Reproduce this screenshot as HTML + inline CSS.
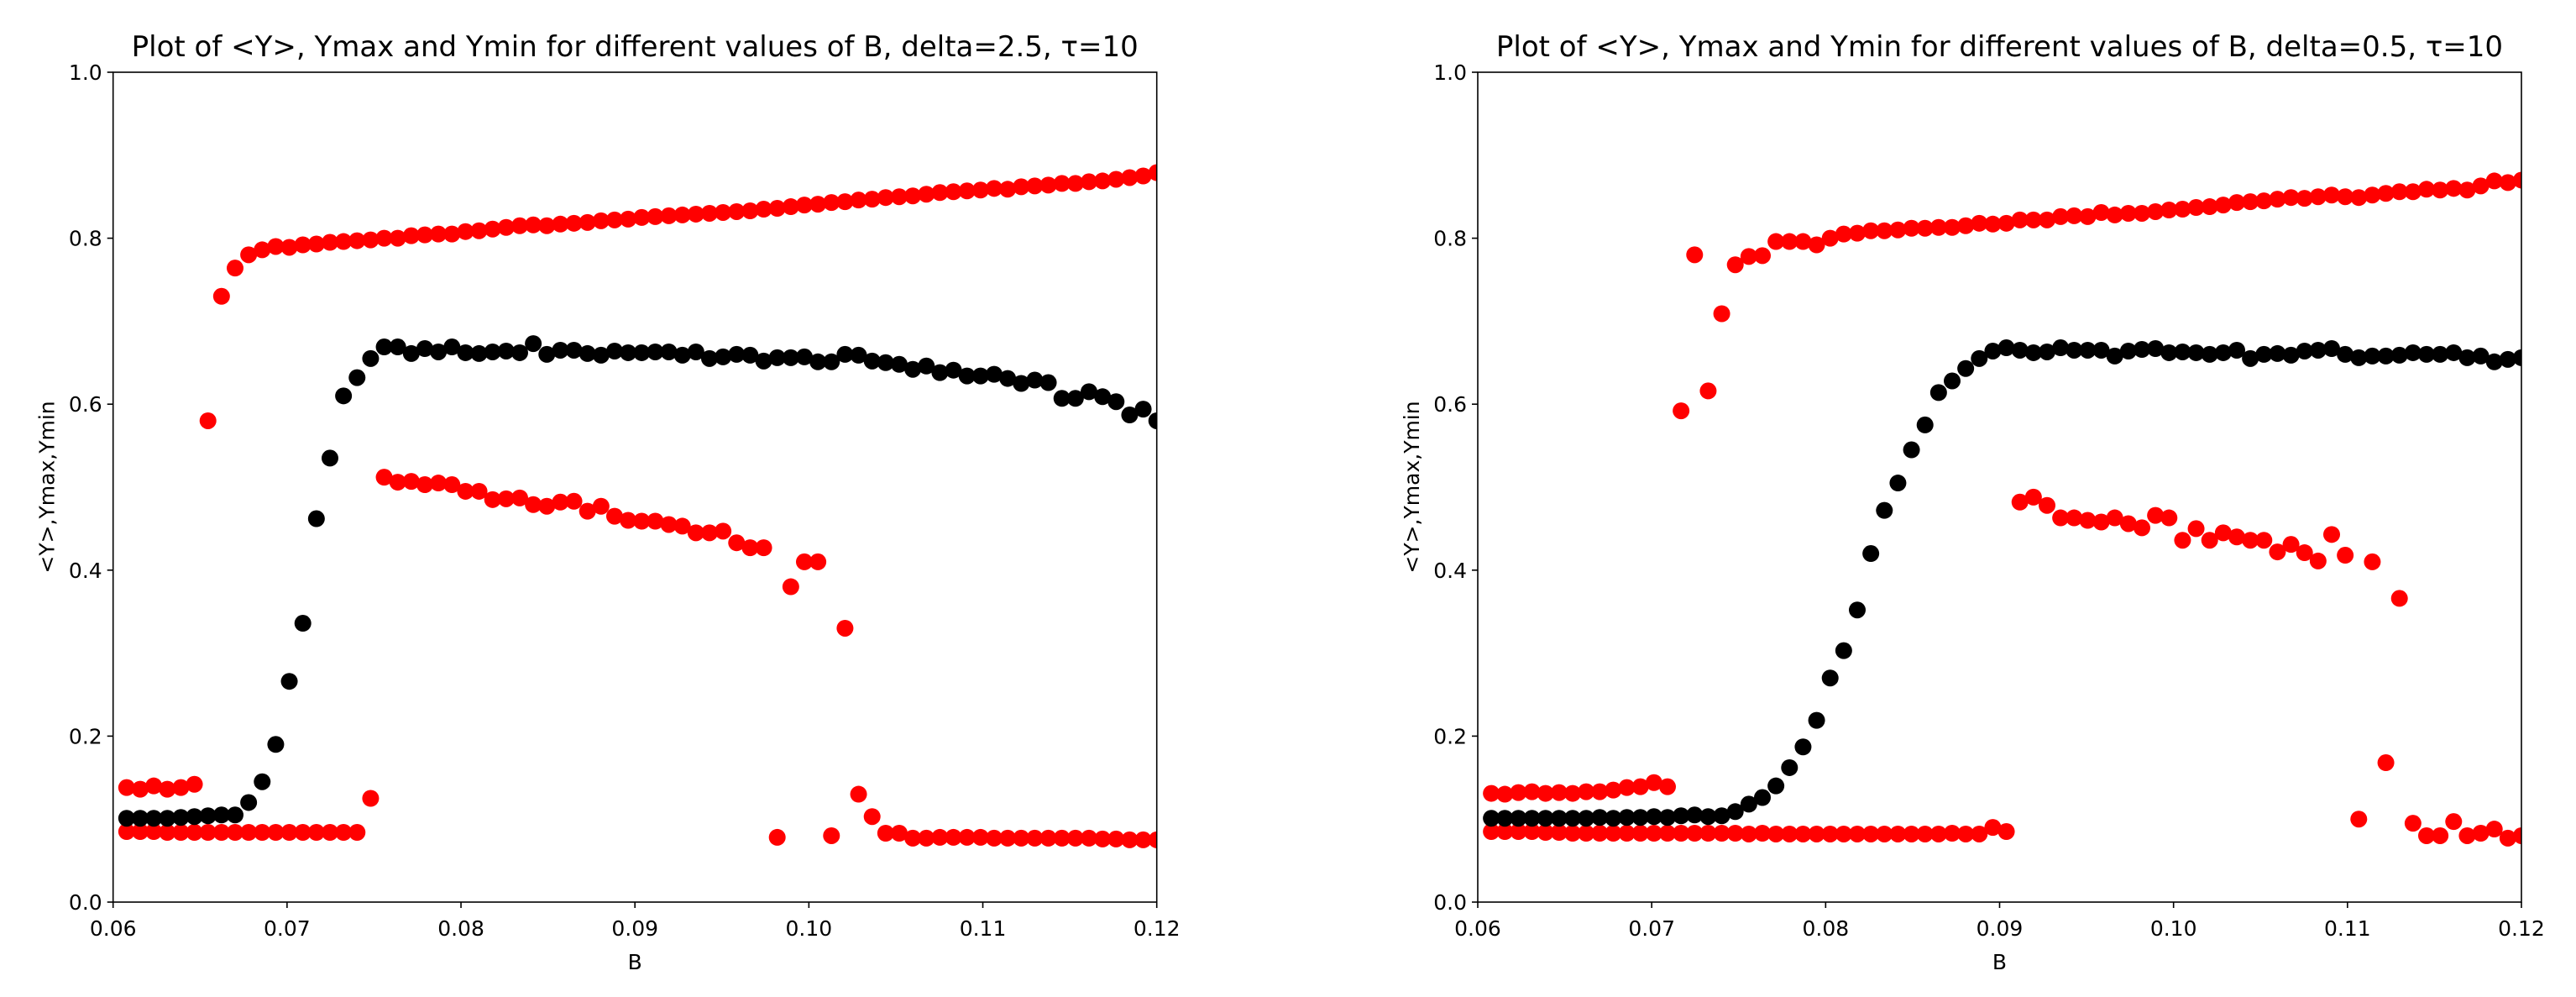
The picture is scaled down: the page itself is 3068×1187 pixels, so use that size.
<!DOCTYPE html>
<html><head><meta charset="utf-8"><style>
html,body{margin:0;padding:0;background:#fff;}
svg{display:block;font-family:"DejaVu Sans","Liberation Sans",sans-serif;}
</style></head><body>
<svg id="fig" width="3068" height="1187" viewBox="0 0 3068 1187" xmlns="http://www.w3.org/2000/svg"></svg>
<script>
// ---- data ----
const xTicks = [0.06,0.07,0.08,0.09,0.10,0.11,0.12];
const xTickLabels = ["0.06","0.07","0.08","0.09","0.10","0.11","0.12"];
const yTicks = [0,0.2,0.4,0.6,0.8,1.0];
const yTickLabels = ["0.0","0.2","0.4","0.6","0.8","1.0"];

const leftMax = [0.138,0.136,0.140,0.136,0.138,0.142,0.58,0.73,0.764,0.78,0.786,0.79,0.789,0.792,0.793,0.795,0.796,0.797,0.798,0.80,0.80,0.803,0.804,0.805,0.805,0.808,0.809,0.811,0.813,0.815,0.816,0.815,0.817,0.818,0.819,0.821,0.822,0.823,0.825,0.826,0.827,0.828,0.829,0.830,0.831,0.832,0.833,0.835,0.836,0.838,0.840,0.841,0.843,0.844,0.846,0.847,0.849,0.850,0.851,0.853,0.855,0.856,0.857,0.858,0.860,0.859,0.862,0.863,0.864,0.866,0.866,0.868,0.869,0.871,0.873,0.875,0.879];
const leftMean = [0.101,0.101,0.101,0.101,0.102,0.103,0.104,0.105,0.105,0.12,0.145,0.19,0.266,0.336,0.462,0.535,0.61,0.632,0.655,0.669,0.669,0.661,0.667,0.663,0.669,0.662,0.661,0.663,0.664,0.662,0.673,0.66,0.665,0.665,0.661,0.659,0.664,0.662,0.662,0.663,0.663,0.659,0.663,0.655,0.657,0.66,0.659,0.652,0.656,0.656,0.657,0.651,0.651,0.66,0.659,0.652,0.65,0.648,0.642,0.646,0.638,0.641,0.634,0.634,0.636,0.631,0.625,0.629,0.626,0.607,0.607,0.615,0.609,0.603,0.587,0.594,0.58];
const leftMin = [0.085,0.085,0.085,0.084,0.084,0.084,0.084,0.084,0.084,0.084,0.084,0.084,0.084,0.084,0.084,0.084,0.084,0.084,0.125,0.512,0.506,0.507,0.503,0.505,0.503,0.495,0.495,0.485,0.486,0.487,0.479,0.477,0.482,0.483,0.471,0.477,0.465,0.46,0.459,0.459,0.455,0.453,0.445,0.445,0.447,0.433,0.427,0.427,0.078,0.38,0.41,0.41,0.08,0.33,0.13,0.103,0.083,0.083,0.077,0.077,0.078,0.078,0.078,0.078,0.077,0.077,0.077,0.077,0.077,0.077,0.077,0.077,0.076,0.076,0.075,0.075,0.075];

const rightMax = [0.131,0.130,0.132,0.133,0.131,0.132,0.131,0.133,0.133,0.135,0.138,0.139,0.144,0.139,0.592,0.78,0.616,0.709,0.768,0.778,0.779,0.796,0.796,0.796,0.792,0.80,0.805,0.806,0.809,0.809,0.81,0.812,0.812,0.813,0.813,0.815,0.818,0.817,0.818,0.822,0.822,0.822,0.826,0.827,0.826,0.831,0.828,0.83,0.83,0.832,0.834,0.835,0.837,0.838,0.84,0.843,0.844,0.845,0.847,0.849,0.848,0.85,0.852,0.85,0.849,0.852,0.854,0.856,0.856,0.859,0.858,0.86,0.858,0.863,0.869,0.867,0.870];
const rightMean = [0.101,0.101,0.101,0.101,0.101,0.101,0.101,0.101,0.102,0.101,0.102,0.102,0.103,0.102,0.104,0.105,0.103,0.104,0.109,0.118,0.126,0.14,0.162,0.187,0.219,0.27,0.303,0.352,0.42,0.472,0.505,0.545,0.575,0.614,0.628,0.643,0.655,0.664,0.668,0.665,0.662,0.663,0.668,0.665,0.665,0.665,0.658,0.664,0.666,0.667,0.662,0.663,0.662,0.66,0.662,0.665,0.655,0.66,0.661,0.659,0.664,0.665,0.667,0.66,0.656,0.658,0.658,0.659,0.662,0.66,0.66,0.662,0.656,0.658,0.651,0.654,0.656];
const rightMin = [0.085,0.085,0.085,0.085,0.084,0.084,0.083,0.083,0.083,0.083,0.083,0.083,0.083,0.083,0.083,0.083,0.083,0.083,0.083,0.082,0.083,0.082,0.082,0.082,0.082,0.082,0.082,0.082,0.082,0.082,0.082,0.082,0.082,0.082,0.083,0.082,0.082,0.09,0.085,0.482,0.488,0.478,0.463,0.463,0.46,0.458,0.463,0.456,0.451,0.466,0.463,0.436,0.45,0.436,0.445,0.44,0.436,0.436,0.422,0.431,0.421,0.411,0.443,0.418,0.1,0.41,0.168,0.366,0.095,0.08,0.08,0.097,0.08,0.083,0.088,0.077,0.08];

const NS = "http://www.w3.org/2000/svg";
const svg = document.getElementById('fig');
function el(tag, attrs, parent){
  const e = document.createElementNS(NS, tag);
  for (const k in attrs) e.setAttribute(k, attrs[k]);
  (parent||svg).appendChild(e);
  return e;
}

function drawPanel(px, title, maxS, meanS, minS, prefix){
  const L = px, R = px + 1243, T = 86, Bt = 1074;
  const xs = v => L + (v - 0.06) / 0.06 * (R - L);
  const ys = v => Bt - v * (Bt - T);
  const g = el('g', {});
  
  

  const t = el('text', {x:(L+R)/2, y:67, 'font-size':34, 'text-anchor':'middle', fill:'#000'}, g);
  t.textContent = title;
  
  

  const N = maxS.length;
  const bAt = i => 0.06 + (i + 1) * 0.06 / N;
  const series = [[minS,'#ff0000','ymin'],[maxS,'#ff0000','ymax'],[meanS,'#000000','mean']];
  const clip = el('clipPath', {id: prefix+'-clip'}, g);
  el('rect', {x:L, y:T, width:R-L, height:Bt-T}, clip);
  series.forEach(([arr, col, nm]) => {
    const sg = el('g', {'clip-path':'url(#'+prefix+'-clip)'}, g);
    
    
    arr.forEach((v, i) => {
      const c = el('circle', {cx: xs(bAt(i)), cy: ys(v), r: 10, fill: col}, sg);
      
      
    });
  });

  const fr = el('rect', {x:L, y:T, width:R-L, height:Bt-T, fill:'none', stroke:'#000', 'stroke-width':1.6}, g);
  
  

  xTicks.forEach((v, i) => {
    const x = xs(v);
    el('line', {x1:x, y1:Bt, x2:x, y2:Bt+7, stroke:'#000', 'stroke-width':1.6}, g);
    const tl = el('text', {x:x, y:Bt+40, 'font-size':25, 'text-anchor':'middle'}, g);
    tl.textContent = xTickLabels[i];
    
    
  });
  yTicks.forEach((v, i) => {
    const y = ys(v);
    el('line', {x1:L-7, y1:y, x2:L, y2:y, stroke:'#000', 'stroke-width':1.6}, g);
    const tl = el('text', {x:L-13, y:y+9, 'font-size':25, 'text-anchor':'end'}, g);
    tl.textContent = yTickLabels[i];
    
    
  });
  const xl = el('text', {x:(L+R)/2, y:1154, 'font-size':25, 'text-anchor':'middle'}, g);
  xl.textContent = 'B';
  
  
  const yx = L - 70, yy = (T+Bt)/2;
  const yl = el('text', {x:yx, y:yy, 'font-size':25, 'text-anchor':'middle', transform:'rotate(-90 '+yx+' '+yy+')'}, g);
  yl.textContent = '<Y>,Ymax,Ymin';
  
  
}

drawPanel(134.7, 'Plot of <Y>, Ymax and Ymin for different values of B, delta=2.5, \u03C4=10', leftMax, leftMean, leftMin, 'left');
drawPanel(1760, 'Plot of <Y>, Ymax and Ymin for different values of B, delta=0.5, \u03C4=10', rightMax, rightMean, rightMin, 'right');
</script>
</body></html>
